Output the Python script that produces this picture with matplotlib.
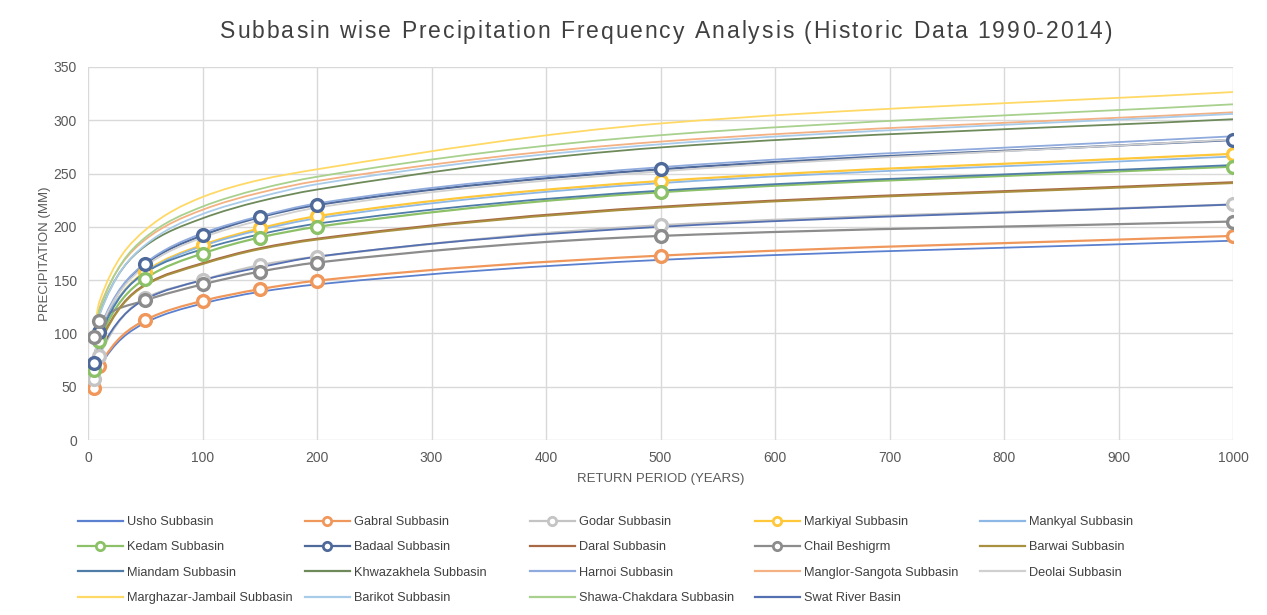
import numpy as np
import matplotlib
matplotlib.use("Agg")
import matplotlib.pyplot as plt
from matplotlib.path import Path
from matplotlib.patches import PathPatch
from matplotlib.lines import Line2D

plt.rcParams['font.family'] = ['Liberation Sans', 'DejaVu Sans']

# return periods (years)
return_period = [5, 10, 50, 100, 150, 200, 500, 1000]

# precipitation (mm)
usho = [50, 68, 110, 128, 139, 146, 169, 187]
gabral = [49, 69, 112.5, 130.5, 141.5, 149.5, 173, 191.5]
godar = [57, 79, 133, 150, 164, 172, 201.5, 221]
markiyal = [71, 98, 158, 183, 198.5, 210, 243, 268.5]
mankyal = [74, 100, 157, 182, 197, 208, 241, 266]
kedam = [66, 93, 151.5, 175, 190, 200, 232.5, 256.5]
badaal = [72.5, 101, 165, 192, 209, 220.5, 254, 281.5]
daral = [66, 90, 146, 166, 180, 189, 219, 242]
chail = [97, 112, 131, 146, 158, 166.5, 191.5, 205]
barwai = [65, 89, 145, 165, 179, 188, 218, 241]
miandam = [68, 96, 157, 179, 193, 203, 234, 258]
khwazakhela = [90, 118, 182, 208, 224, 235, 274.5, 301]
harnoi = [74, 103, 166, 194, 210, 222, 256, 285]
manglor = [97, 124, 188, 216, 232, 243, 280, 307.5]
deolai = [75, 102, 163, 190, 206, 218, 252, 282]
marghazar = [100, 130, 197, 228, 244, 254, 297, 326.5]
barikot = [88, 117, 183, 212, 228, 240, 277.5, 306]
shawa = [93, 122, 190, 219, 235.5, 247, 286, 315]
swat = [60, 82, 132, 150, 162, 172, 200, 221]

names = ["Usho Subbasin", "Gabral Subbasin", "Godar Subbasin", "Markiyal Subbasin",
         "Mankyal Subbasin", "Kedam Subbasin", "Badaal Subbasin", "Daral Subbasin",
         "Chail Beshigrm", "Barwai Subbasin", "Miandam Subbasin", "Khwazakhela Subbasin",
         "Harnoi Subbasin", "Manglor-Sangota Subbasin", "Deolai Subbasin",
         "Marghazar-Jambail Subbasin", "Barikot Subbasin", "Shawa-Chakdara Subbasin",
         "Swat River Basin"]
values = [usho, gabral, godar, markiyal, mankyal, kedam, badaal, daral, chail, barwai,
          miandam, khwazakhela, harnoi, manglor, deolai, marghazar, barikot, shawa, swat]
# series drawn with open circle markers
marked = ["Gabral Subbasin", "Godar Subbasin", "Markiyal Subbasin", "Kedam Subbasin",
          "Badaal Subbasin", "Chail Beshigrm"]

colors = ["#5A80CF", "#F0985C", "#C4C4C4", "#FFC83A", "#8DB8E6", "#8CC168",
          "#4F6A9A", "#A86A45", "#8C8C8C", "#A8903F", "#4F7DA8", "#6E8A5A",
          "#8FAADC", "#F4B183", "#D0D0D0", "#FFD966", "#A9CBEA", "#A9D18E", "#5570B0"]

TITLE = "Subbasin wise Precipitation Frequency Analysis (Historic Data 1990-2014)"


def smooth_path(x, y):
    """Smoothed line like Excel: cubic bezier pieces (hermite, pchip slopes)."""
    x = np.asarray(x, float)
    y = np.asarray(y, float)
    h = np.diff(x)
    d = np.diff(y) / h
    n = len(x)
    m = np.zeros(n)
    for i in range(1, n - 1):
        if d[i - 1] * d[i] <= 0:
            m[i] = 0
        else:
            w1 = 2 * h[i] + h[i - 1]
            w2 = h[i] + 2 * h[i - 1]
            m[i] = (w1 + w2) / (w1 / d[i - 1] + w2 / d[i])
    m[0] = d[0]
    m[-1] = d[-1]
    verts = [(x[0], y[0])]
    codes = [Path.MOVETO]
    for i in range(n - 1):
        dx = h[i] / 3
        verts += [(x[i] + dx, y[i] + m[i] * dx),
                  (x[i + 1] - dx, y[i + 1] - m[i + 1] * dx),
                  (x[i + 1], y[i + 1])]
        codes += [Path.CURVE4] * 3
    return Path(verts, codes)


fig = plt.figure(figsize=(12.67, 6.15), dpi=100)
ax = fig.add_axes([88 / 1267, 1 - 440 / 615, (1233 - 88) / 1267, (440 - 67) / 615])

grid_c = "#D9D9D9"
text_c = "#595959"

for name, vals, c in zip(names, values, colors):
    lw = 1.6 if name in marked else 1.3
    ax.add_patch(PathPatch(smooth_path(return_period, vals), fill=False,
                           edgecolor=c, lw=lw, zorder=2))
    if name in marked:
        ax.plot(return_period, vals, ls="none", marker="o", ms=8.5,
                mfc="white", mec=c, mew=2.4, zorder=3)

ax.set_xlim(0, 1000)
ax.set_ylim(0, 350)
ax.set_xticks(np.arange(0, 1001, 100))
ax.set_yticks(np.arange(0, 351, 50))
ax.grid(True, color=grid_c, lw=1.0)
ax.set_axisbelow(True)
for s in ax.spines.values():
    s.set_visible(False)
ax.tick_params(length=0, labelsize=10, colors=text_c, pad=8)
ax.set_xlabel("RETURN PERIOD (YEARS)", fontsize=9.5, color=text_c, labelpad=6)
ax.set_ylabel("PRECIPITATION (MM)", fontsize=9.5, color=text_c, labelpad=2)

# title with Excel-like letter spacing: place characters one by one
renderer = fig.canvas.get_renderer()
title_size = 16.5
probe = fig.text(0, 0, "", fontsize=title_size)
offsets = []
for i in range(len(TITLE) + 1):
    probe.set_text(TITLE[:i].replace(" ", "\u00a0") + "|")
    offsets.append(probe.get_window_extent(renderer).width)
probe.set_text("|")
bar_w = probe.get_window_extent(renderer).width
probe.remove()
offsets = [o - bar_w for o in offsets]
natural = offsets[-1]
target = 1112 - 220
extra = (target - natural) / (len(TITLE) - 1)
x_start = 220
for i, ch in enumerate(TITLE):
    if ch == " ":
        continue
    px = x_start + offsets[i] + i * extra
    fig.text(px / 1267, 1 - 32 / 615, ch, ha="left", va="center",
             fontsize=title_size, color="#404040")

# legend laid out row by row, 5 equal columns like Excel
col_x = [78, 305, 530, 755, 980]
for j, x0 in enumerate(col_x):
    handles = []
    labels = []
    for k in range(j, len(names), 5):
        c = colors[k]
        if names[k] in marked:
            h = Line2D([], [], color=c, lw=1.6, marker="o", ms=6,
                       mfc="white", mec=c, mew=2)
        else:
            h = Line2D([], [], color=c, lw=1.6)
        handles.append(h)
        labels.append(names[k])
    fig.legend(handles, labels, loc="upper left",
               bbox_to_anchor=(x0 / 1267, 1 - 516 / 615), frameon=False,
               borderpad=0, borderaxespad=0, handlelength=3.5,
               handletextpad=0.3, labelspacing=1.05, fontsize=9.2,
               labelcolor="#404040")

fig.savefig("out.png", dpi=100)
